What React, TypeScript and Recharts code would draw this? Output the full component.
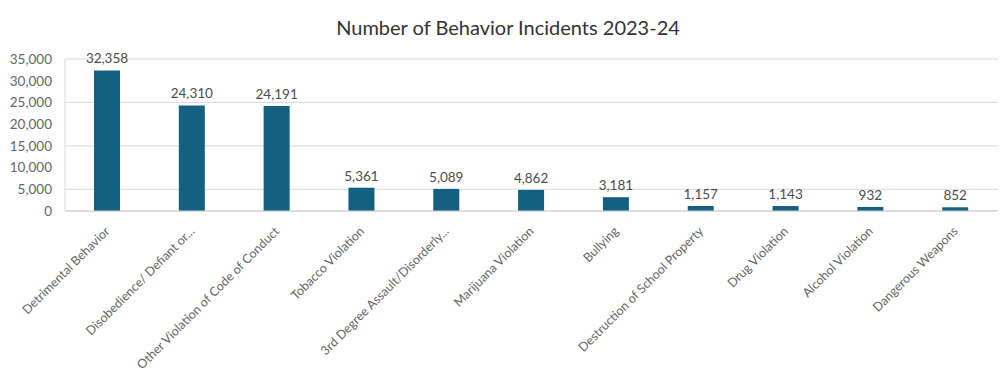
import { BarChart, Bar, XAxis, YAxis, CartesianGrid, LabelList } from "recharts";

const categories = [
  "Detrimental Behavior",
  "Disobedience/ Defiant or...",
  "Other Violation of Code of Conduct",
  "Tobacco Violation",
  "3rd Degree Assault/Disorderly...",
  "Marijuana Violation",
  "Bullying",
  "Destruction of School Property",
  "Drug Violation",
  "Alcohol Violation",
  "Dangerous Weapons",
];

const incidents = [32358, 24310, 24191, 5361, 5089, 4862, 3181, 1157, 1143, 932, 852];

const yTicks = [0, 5000, 10000, 15000, 20000, 25000, 30000, 35000];

const data = categories.map((name, i) => ({ name, value: incidents[i] }));

const FONT = "Lato, 'Open Sans', sans-serif";

const fmt = (v: number) => v.toLocaleString("en-US");

function AngledTick(props: any) {
  const { x, y, payload } = props;
  return (
    <g transform={`translate(${x + 3},${y + 13})`}>
      <text
        textAnchor="end"
        transform="rotate(-45)"
        fontFamily={FONT}
        fontSize={12.5}
        fill="#666666"
      >
        {payload.value}
      </text>
    </g>
  );
}

export default function App() {
  return (
    <div
      style={{
        position: "absolute",
        left: 0,
        top: 0,
        width: 1008,
        height: 376,
        background: "#fff",
        fontFamily: FONT,
      }}
    >
      <div
        style={{
          position: "absolute",
          top: 15,
          left: 0,
          width: 1016,
          textAlign: "center",
          fontSize: 20,
          color: "#333333",
        }}
      >
        Number of Behavior Incidents 2023-24
      </div>
      <BarChart
        width={1008}
        height={376}
        data={data}
        margin={{ top: 59, right: 10, bottom: 0, left: 0 }}
        barCategoryGap={0}
      >
        <CartesianGrid vertical={false} stroke="#d9d9d9" />
        <XAxis
          dataKey="name"
          interval={0}
          height={165}
          tick={<AngledTick />}
          tickLine={false}
          axisLine={{ stroke: "#d0d0d0" }}
        />
        <YAxis
          width={65}
          domain={[0, 35000]}
          ticks={yTicks}
          tickFormatter={fmt}
          tickLine={false}
          tickSize={0}
          tickMargin={13}
          axisLine={{ stroke: "#d9d9d9" }}
          tick={{ fontFamily: FONT, fontSize: 13.5, fill: "#666666" }}
        />
        <Bar dataKey="value" fill="#156082" barSize={26} isAnimationActive={false}>
          <LabelList
            dataKey="value"
            position="top"
            offset={7}
            formatter={(v: any) => fmt(Number(v))}
            style={{ fontFamily: FONT, fontSize: 13.5, fill: "#4d4d4d" }}
          />
        </Bar>
      </BarChart>
    </div>
  );
}
